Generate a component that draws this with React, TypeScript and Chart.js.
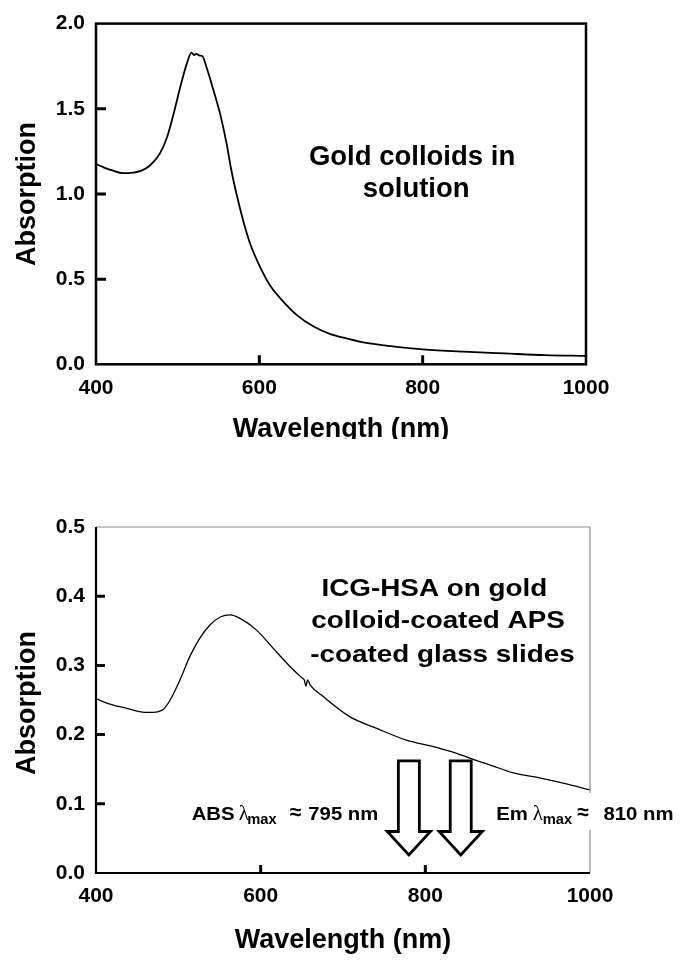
import React, { useEffect, useRef } from 'react';
import { Chart, registerables } from 'chart.js';

Chart.register(...registerables);

// ---------- data ----------
const goldWavelengths = [400, 410, 420, 433, 445, 455, 466, 478, 487, 495, 503, 511, 517, 520, 523, 527, 530, 536, 544, 552, 560, 565, 572, 581, 589, 601, 613, 626, 646, 667, 687, 700, 724, 750, 800, 850, 900, 950, 1000];
const goldAbsorption = [1.175, 1.155, 1.138, 1.122, 1.125, 1.135, 1.167, 1.235, 1.333, 1.47, 1.625, 1.762, 1.83, 1.815, 1.822, 1.812, 1.81, 1.733, 1.606, 1.47, 1.294, 1.157, 1.001, 0.83, 0.705, 0.571, 0.464, 0.386, 0.289, 0.22, 0.177, 0.16, 0.132, 0.113, 0.088, 0.074, 0.064, 0.054, 0.049];

const icgWavelengths = [400, 417, 437, 462, 475, 482, 490, 502, 514, 526, 538, 551, 563, 575, 595, 615, 636, 650, 653, 655, 657, 660, 676, 708, 741, 777, 810, 838, 854, 866, 879, 906, 940, 970, 1000];
const icgAbsorption = [0.252, 0.244, 0.238, 0.232, 0.233, 0.2365, 0.25, 0.279, 0.313, 0.339, 0.358, 0.37, 0.373, 0.368, 0.351, 0.325, 0.298, 0.282, 0.279, 0.27, 0.279, 0.272, 0.255, 0.226, 0.209, 0.192, 0.1825, 0.173, 0.166, 0.161, 0.156, 0.145, 0.137, 0.129, 0.12];

const xMin = 400;
const xMax = 1000;
const xStep = 200;
const goldYMax = 2.0;
const goldYStep = 0.5;
const icgYMax = 0.5;
const icgYStep = 0.1;

const xTitle = 'Wavelength (nm)';
const yTitle = 'Absorption';
const goldNote = ['Gold colloids in', 'solution'];
const icgNote = ['ICG-HSA on gold', 'colloid-coated APS', '-coated glass slides'];

const arrowWavelengths = [780, 843];
const arrowTop = 0.162;
const arrowShaftEnd = 0.06;
const arrowTip = 0.026;

const absPrefix = 'ABS';
const absValue = '795 nm';
const emPrefix = 'Em';
const emValue = '810 nm';

// ---------- styling ----------
const SANS = '"Liberation Sans", Arial, Helvetica, sans-serif';
const SERIF = '"Liberation Serif", "DejaVu Serif", serif';
const tickFont = { family: SANS, size: 21, weight: 'bold' as const };

function drawText(ctx: CanvasRenderingContext2D, text: string, x: number, y: number, font: string, align: CanvasTextAlign, sx = 1) {
  ctx.save();
  ctx.font = font;
  ctx.textAlign = align;
  ctx.textBaseline = 'alphabetic';
  ctx.fillStyle = '#000';
  ctx.translate(x, y);
  ctx.scale(sx, 1);
  ctx.fillText(text, 0, 0);
  ctx.restore();
}

function drawYTitle(ctx: CanvasRenderingContext2D, cx: number, cy: number) {
  ctx.save();
  ctx.translate(cx, cy);
  ctx.rotate(-Math.PI / 2);
  ctx.font = `bold 27px ${SANS}`;
  ctx.textAlign = 'center';
  ctx.textBaseline = 'middle';
  ctx.fillStyle = '#000';
  ctx.fillText(yTitle, 0, 0);
  ctx.restore();
}

function drawLambdaLabel(ctx: CanvasRenderingContext2D, x0: number, base: number, prefix: string, value: string, offs: number[]) {
  const sx = 1.07;
  drawText(ctx, prefix, x0 + offs[0], base, `bold 19px ${SANS}`, 'left', sx);
  drawText(ctx, '\u03bb', x0 + offs[1], base, `21px ${SERIF}`, 'left', 1);
  drawText(ctx, 'max', x0 + offs[2], base + 4, `bold 14px ${SANS}`, 'left', 1.05);
  drawText(ctx, '\u2248', x0 + offs[3], base - 1, `bold 21px ${SANS}`, 'left', 1);
  drawText(ctx, value, x0 + offs[4], base, `bold 19px ${SANS}`, 'left', sx);
}

const topDecor = {
  id: 'topDecor',
  afterDraw(chart: any) {
    const { ctx, chartArea: a, scales } = chart;
    const x = scales.x;
    const y = scales.y;
    ctx.save();
    ctx.strokeStyle = '#000';
    ctx.lineWidth = 2.5;
    ctx.strokeRect(a.left, a.top, a.right - a.left, a.bottom - a.top);
    ctx.lineWidth = 3;
    ctx.beginPath();
    for (let v = goldYStep; v < goldYMax - 1e-9; v += goldYStep) {
      const py = y.getPixelForValue(v);
      ctx.moveTo(a.left, py);
      ctx.lineTo(a.left + 10, py);
    }
    for (let v = xMin + xStep; v < xMax; v += xStep) {
      const px = x.getPixelForValue(v);
      ctx.moveTo(px, a.bottom);
      ctx.lineTo(px, a.bottom - 9);
    }
    ctx.stroke();
    ctx.restore();
    drawText(ctx, xTitle, (a.left + a.right) / 2, a.bottom + 72.4, `bold 27px ${SANS}`, 'center');
    drawYTitle(ctx, 28, (a.top + a.bottom) / 2);
    drawText(ctx, goldNote[0], x.getPixelForValue(787), y.getPixelForValue(1.171), `bold 27.5px ${SANS}`, 'center');
    drawText(ctx, goldNote[1], x.getPixelForValue(792), y.getPixelForValue(0.981), `bold 27.5px ${SANS}`, 'center');
  },
};

const bottomDecor = {
  id: 'bottomDecor',
  afterDraw(chart: any) {
    const { ctx, chartArea: a, scales } = chart;
    const x = scales.x;
    const y = scales.y;
    ctx.save();
    ctx.strokeStyle = '#8a8a8a';
    ctx.lineWidth = 1.2;
    ctx.beginPath();
    ctx.moveTo(a.left, a.top);
    ctx.lineTo(a.right, a.top);
    ctx.lineTo(a.right, a.bottom);
    ctx.stroke();
    ctx.strokeStyle = '#000';
    ctx.lineWidth = 2.2;
    ctx.beginPath();
    ctx.moveTo(a.left, a.top);
    ctx.lineTo(a.left, a.bottom);
    ctx.lineTo(a.right, a.bottom);
    ctx.stroke();
    ctx.lineWidth = 3;
    ctx.beginPath();
    for (let v = icgYStep; v < icgYMax - 1e-9; v += icgYStep) {
      const py = y.getPixelForValue(v);
      ctx.moveTo(a.left, py);
      ctx.lineTo(a.left + 9, py);
    }
    for (let v = xMin + xStep; v < xMax; v += xStep) {
      const px = x.getPixelForValue(v);
      ctx.moveTo(px, a.bottom);
      ctx.lineTo(px, a.bottom - 8);
    }
    ctx.stroke();

    const halfShaft = 12.75;
    const halfHead = 26.3;
    ctx.lineWidth = 2.8;
    ctx.lineJoin = 'miter';
    ctx.fillStyle = '#fff';
    ctx.strokeStyle = '#000';
    for (const w of arrowWavelengths) {
      const pts: [number, number][] = [
        [w - halfShaft, arrowTop],
        [w + halfShaft, arrowTop],
        [w + halfShaft, arrowShaftEnd],
        [w + halfHead, arrowShaftEnd],
        [w, arrowTip],
        [w - halfHead, arrowShaftEnd],
        [w - halfShaft, arrowShaftEnd],
      ];
      ctx.beginPath();
      pts.forEach(([px, py], i) => {
        const X = x.getPixelForValue(px);
        const Y = y.getPixelForValue(py);
        if (i === 0) ctx.moveTo(X, Y);
        else ctx.lineTo(X, Y);
      });
      ctx.closePath();
      ctx.fill();
      ctx.stroke();
    }

    const emX = x.getPixelForValue(886);
    const base = y.getPixelForValue(0.0766);
    ctx.fillStyle = '#fff';
    ctx.fillRect(emX - 4, base - 27, 190, 37);
    ctx.restore();

    drawLambdaLabel(ctx, x.getPixelForValue(516.2), base, absPrefix, absValue, [0, 47, 55.5, 98, 116.6]);
    drawLambdaLabel(ctx, emX, base, emPrefix, emValue, [0, 36.5, 46.5, 81, 107.3]);

    drawText(ctx, xTitle, (a.left + a.right) / 2, a.bottom + 75, `bold 27px ${SANS}`, 'center');
    drawYTitle(ctx, 28, (a.top + a.bottom) / 2 + 3);

    const nf = `bold 24px ${SANS}`;
    drawText(ctx, icgNote[0], x.getPixelForValue(811), y.getPixelForValue(0.4007), nf, 'center', 1.16);
    drawText(ctx, icgNote[1], x.getPixelForValue(815.4), y.getPixelForValue(0.3536), nf, 'center', 1.16);
    drawText(ctx, icgNote[2], x.getPixelForValue(820.8), y.getPixelForValue(0.3053), nf, 'center', 1.16);
  },
};

function makeConfig(opts: {
  xs: number[];
  ys: number[];
  yMax: number;
  yStep: number;
  height: number;
  top: number;
  right: number;
  bottom: number;
  lineWidth: number;
  plugin: any;
}): any {
  const { xs, ys, yMax, yStep, height, top, right, bottom, lineWidth, plugin } = opts;
  return {
    type: 'line',
    data: {
      datasets: [
        {
          data: xs.map((x, i) => ({ x, y: ys[i] })),
          borderColor: '#000',
          borderWidth: lineWidth,
          pointRadius: 0,
          fill: false,
          cubicInterpolationMode: 'monotone',
        },
      ],
    },
    options: {
      responsive: false,
      animation: false,
      devicePixelRatio: 1,
      layout: { padding: { left: 0, top, right: 689 - right, bottom: 0 } },
      plugins: { legend: { display: false }, tooltip: { enabled: false }, title: { display: false } },
      scales: {
        x: {
          type: 'linear',
          min: xMin,
          max: xMax,
          grid: { display: false, drawTicks: false },
          border: { display: false },
          ticks: {
            stepSize: xStep,
            font: tickFont,
            color: '#000',
            padding: 11,
            maxRotation: 0,
            autoSkip: false,
            callback: (v: any) => String(v),
          },
          afterFit: (s: any) => {
            s.height = height - bottom;
          },
        },
        y: {
          type: 'linear',
          min: 0,
          max: yMax,
          grid: { display: false, drawTicks: false },
          border: { display: false },
          ticks: {
            stepSize: yStep,
            font: tickFont,
            color: '#000',
            padding: 11,
            callback: (v: any) => Number(v).toFixed(1),
          },
          afterFit: (s: any) => {
            s.width = 96;
          },
        },
      },
    },
    plugins: [plugin],
  };
}

export default function App() {
  const topRef = useRef<HTMLCanvasElement>(null);
  const botRef = useRef<HTMLCanvasElement>(null);

  useEffect(() => {
    const c1 = new Chart(
      topRef.current!,
      makeConfig({
        xs: goldWavelengths,
        ys: goldAbsorption,
        yMax: goldYMax,
        yStep: goldYStep,
        height: 439,
        top: 22.7,
        right: 586,
        bottom: 364.3,
        lineWidth: 1.8,
        plugin: topDecor,
      })
    );
    const c2 = new Chart(
      botRef.current!,
      makeConfig({
        xs: icgWavelengths,
        ys: icgAbsorption,
        yMax: icgYMax,
        yStep: icgYStep,
        height: 523,
        top: 87,
        right: 590,
        bottom: 433,
        lineWidth: 1.3,
        plugin: bottomDecor,
      })
    );
    return () => {
      c1.destroy();
      c2.destroy();
    };
  }, []);

  return (
    <div style={{ position: 'fixed', left: 0, top: 0, width: 689, height: 963, background: '#fff' }}>
      <canvas ref={topRef} width={689} height={439} style={{ position: 'absolute', left: 0, top: 0 }} />
      <canvas ref={botRef} width={689} height={523} style={{ position: 'absolute', left: 0, top: 440 }} />
    </div>
  );
}
